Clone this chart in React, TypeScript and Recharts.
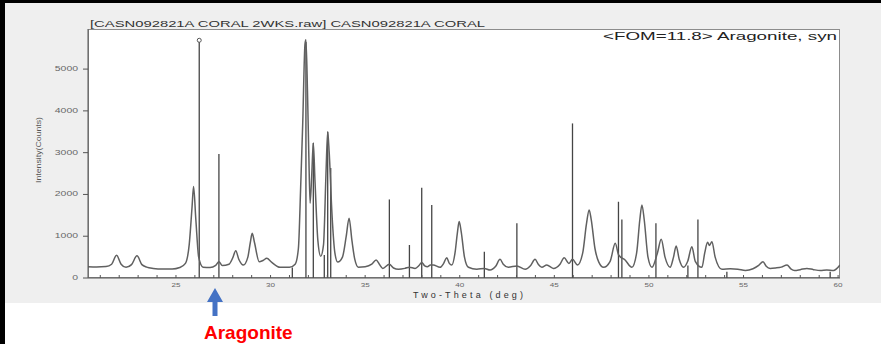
import React from "react";
import {
  ComposedChart,
  Line,
  XAxis,
  YAxis,
  ReferenceLine,
  ReferenceDot,
} from "recharts";

// measured scan: [two-theta (deg), intensity (counts)]
const scan: [number, number][] = [
  [20.35, 270], [20.8, 265], [21.3, 275], [21.6, 330], [21.86, 545],
  [22.1, 330], [22.36, 255], [22.65, 320], [22.94, 530], [23.2, 320],
  [23.45, 260], [23.8, 230], [24.3, 215], [24.8, 215], [25.2, 250],
  [25.5, 350], [25.7, 800], [25.85, 1700], [25.93, 2190], [26.05, 1400],
  [26.2, 500], [26.43, 260], [26.8, 250], [27.1, 300], [27.27, 390],
  [27.45, 300], [27.8, 330], [28.0, 480], [28.16, 650], [28.32, 450],
  [28.56, 310], [28.8, 500], [28.93, 850], [29.03, 1070], [29.15, 850],
  [29.4, 390], [29.6, 420], [29.8, 470], [30.05, 380], [30.5, 256],
  [31.0, 256], [31.3, 330], [31.47, 700], [31.6, 2300], [31.7, 3700],
  [31.82, 5600], [31.87, 5700], [31.95, 4500], [32.02, 3000], [32.09, 1790],
  [32.18, 2500], [32.26, 3230], [32.35, 2300], [32.5, 900], [32.65, 520],
  [32.8, 800], [32.93, 2500], [33.02, 3500], [33.1, 3000], [33.25, 1500],
  [33.4, 600], [33.55, 380], [33.8, 500], [34.0, 1000], [34.15, 1430],
  [34.3, 900], [34.45, 450], [34.64, 260], [35.0, 270], [35.35, 330],
  [35.58, 430], [35.75, 330], [35.93, 230], [36.28, 330], [36.5, 240],
  [36.76, 210], [37.1, 230], [37.34, 260], [37.64, 230], [37.85, 300],
  [37.99, 370], [38.15, 290], [38.29, 270], [38.45, 310], [38.6, 310],
  [38.96, 256], [39.15, 350], [39.31, 486], [39.45, 350], [39.58, 310],
  [39.75, 600], [39.88, 1100], [39.97, 1350], [40.08, 1100], [40.25, 500],
  [40.46, 256], [40.9, 210], [41.3, 230], [41.6, 190], [41.9, 280],
  [42.13, 446], [42.3, 330], [42.57, 256], [43.02, 290], [43.46, 210],
  [43.75, 300], [43.98, 446], [44.15, 330], [44.34, 256], [44.6, 310],
  [44.95, 230], [45.3, 330], [45.52, 486], [45.77, 350], [45.96, 446],
  [46.22, 310], [46.5, 600], [46.7, 1300], [46.84, 1630], [46.95, 1400],
  [47.15, 700], [47.35, 380], [47.6, 256], [47.95, 400], [48.22, 830],
  [48.4, 550], [48.74, 430], [49.1, 256], [49.35, 600], [49.52, 1400],
  [49.63, 1750], [49.75, 1400], [49.95, 500], [50.16, 256], [50.45, 600],
  [50.65, 925], [50.85, 500], [51.12, 256], [51.3, 500], [51.44, 766],
  [51.6, 450], [51.83, 256], [52.05, 400], [52.27, 750], [52.45, 400],
  [52.8, 256], [52.95, 600], [53.1, 854], [53.2, 780], [53.33, 870],
  [53.5, 500], [53.86, 208], [54.3, 220], [54.7, 210], [55.1, 180],
  [55.5, 220], [55.8, 300], [56.03, 390], [56.2, 280], [56.41, 230],
  [56.7, 240], [57.0, 260], [57.3, 310], [57.5, 220], [57.7, 180],
  [58.0, 200], [58.35, 230], [58.7, 200], [59.06, 180], [59.4, 190],
  [59.76, 180], [60.1, 310],
];

// reference pattern (Aragonite, syn) sticks: [two-theta, intensity]
const sticks: [number, number][] = [
  [26.23, 5690], [27.27, 2970], [31.15, 250], [31.87, 5650], [32.26, 3230],
  [32.84, 550], [33.02, 3500], [33.18, 2630], [36.28, 1880], [37.34, 790],
  [37.99, 2160], [38.52, 1750], [41.3, 630], [43.02, 1310], [45.96, 3700],
  [48.39, 1825], [48.57, 1400], [50.37, 1310], [52.06, 300], [52.59, 1400],
  [54.12, 150], [59.58, 150],
];

const xTicks = [21, 22, 23, 24, 25, 26, 27, 28, 29, 30, 31, 32, 33, 34, 35, 36, 37, 38, 39, 40,
  41, 42, 43, 44, 45, 46, 47, 48, 49, 50, 51, 52, 53, 54, 55, 56, 57, 58, 59, 60];
const yTicks = [0, 1000, 2000, 3000, 4000, 5000];

const X_DOMAIN: [number, number] = [20.35, 60.1];
const Y_DOMAIN: [number, number] = [0, 5960];

const rows = scan.map(([tt, c]) => ({ tt, counts: c }));
const topStick = sticks.reduce((a, b) => (b[1] > a[1] ? b : a));

const FONT = "'Liberation Sans', Arial, sans-serif";

const XTick = (props: any) => {
  const { x, y, payload } = props;
  const v = payload.value;
  return (
    <g>
      <line x1={x} x2={x} y1={y - 3} y2={y} stroke="#555" />
      {v % 5 === 0 && (
        <text
          x={x}
          y={y + 9}
          textAnchor="middle"
          fontSize={6}
          fontFamily={FONT}
          fill="#666"
          textLength={9}
          lengthAdjust="spacingAndGlyphs"
        >
          {v}
        </text>
      )}
    </g>
  );
};

const YTick = (props: any) => {
  const { x, y, payload } = props;
  const s = String(payload.value);
  return (
    <text
      x={x}
      y={y + 2}
      textAnchor="end"
      fontSize={7}
      fontFamily={FONT}
      fill="#666"
      textLength={s.length * 5.8}
      lengthAdjust="spacingAndGlyphs"
    >
      {s}
    </text>
  );
};

export default function App() {
  return (
    <div
      style={{
        position: "absolute",
        left: 0,
        top: 0,
        width: 881,
        height: 344,
        background: "#fff",
        overflow: "hidden",
      }}
    >
      {/* black frame + grey panel */}
      <div style={{ position: "absolute", left: 0, top: 0, width: 881, height: 3, background: "#000" }} />
      <div style={{ position: "absolute", left: 0, top: 0, width: 5, height: 344, background: "#000" }} />
      <div style={{ position: "absolute", left: 5, top: 3, width: 876, height: 300, background: "#efefef" }} />
      {/* plot box */}
      <div
        style={{
          position: "absolute",
          left: 88,
          top: 29,
          width: 752,
          height: 249,
          background: "#fff",
          border: "1px solid #8c8c8c",
          boxSizing: "border-box",
        }}
      />

      <div style={{ position: "absolute", left: 0, top: 0 }}>
        <ComposedChart
          width={881}
          height={344}
          data={rows}
          margin={{ top: 29, right: 41, bottom: 36, left: 48 }}
        >
          <XAxis
            dataKey="tt"
            type="number"
            domain={X_DOMAIN}
            allowDataOverflow
            ticks={xTicks}
            interval={0}
            tickSize={0}
            tickMargin={0}
            tickLine={false}
            axisLine={{ stroke: "#555" }}
            tick={<XTick />}
            height={30}
          />
          <YAxis
            type="number"
            domain={Y_DOMAIN}
            allowDataOverflow
            ticks={yTicks}
            interval={0}
            tickSize={5}
            tickMargin={5}
            tickLine={{ stroke: "#555" }}
            axisLine={{ stroke: "#555" }}
            tick={<YTick />}
            width={40}
          />
          {sticks.map(([t, h]) => (
            <ReferenceLine
              key={t}
              segment={[
                { x: t, y: 0 },
                { x: t, y: h },
              ]}
              stroke="#454545"
              strokeWidth={1.3}
            />
          ))}
          <Line
            type="monotone"
            dataKey="counts"
            stroke="#606060"
            strokeWidth={1.5}
            dot={false}
            isAnimationActive={false}
          />
          <ReferenceDot
            x={topStick[0]}
            y={topStick[1]}
            r={2}
            fill="#fff"
            stroke="#555"
            strokeWidth={1}
          />
        </ComposedChart>
      </div>

      {/* texts and annotation */}
      <svg
        width={881}
        height={344}
        style={{ position: "absolute", left: 0, top: 0, pointerEvents: "none" }}
      >
        <text
          x={90}
          y={27}
          fontSize={9}
          fontFamily={FONT}
          fill="#333"
          textLength={395}
          lengthAdjust="spacingAndGlyphs"
        >
          [CASN092821A CORAL 2WKS.raw] CASN092821A CORAL
        </text>
        <text
          x={837}
          y={40}
          textAnchor="end"
          fontSize={11}
          fontFamily={FONT}
          fill="#222"
          textLength={234}
          lengthAdjust="spacingAndGlyphs"
        >
          {"<FOM=11.8> Aragonite, syn"}
        </text>
        <text
          x={41}
          y={150}
          transform="rotate(-90 41 150)"
          textAnchor="middle"
          fontSize={8}
          fontFamily={FONT}
          fill="#555"
          textLength={66}
          lengthAdjust="spacingAndGlyphs"
        >
          Intensity(Counts)
        </text>
        <text
          x={413}
          y={298}
          fontSize={9}
          fontFamily={FONT}
          fill="#333"
          textLength={110}
          lengthAdjust="spacing"
        >
          Two-Theta (deg)
        </text>
        <polygon
          points="215,288 223,302 217.5,302 217.5,316 212.5,316 212.5,302 207,302"
          fill="#4472c4"
        />
        <text
          x={204}
          y={339}
          fontSize={19}
          fontWeight="bold"
          fontFamily={FONT}
          fill="#ff0000"
        >
          Aragonite
        </text>
      </svg>
    </div>
  );
}
